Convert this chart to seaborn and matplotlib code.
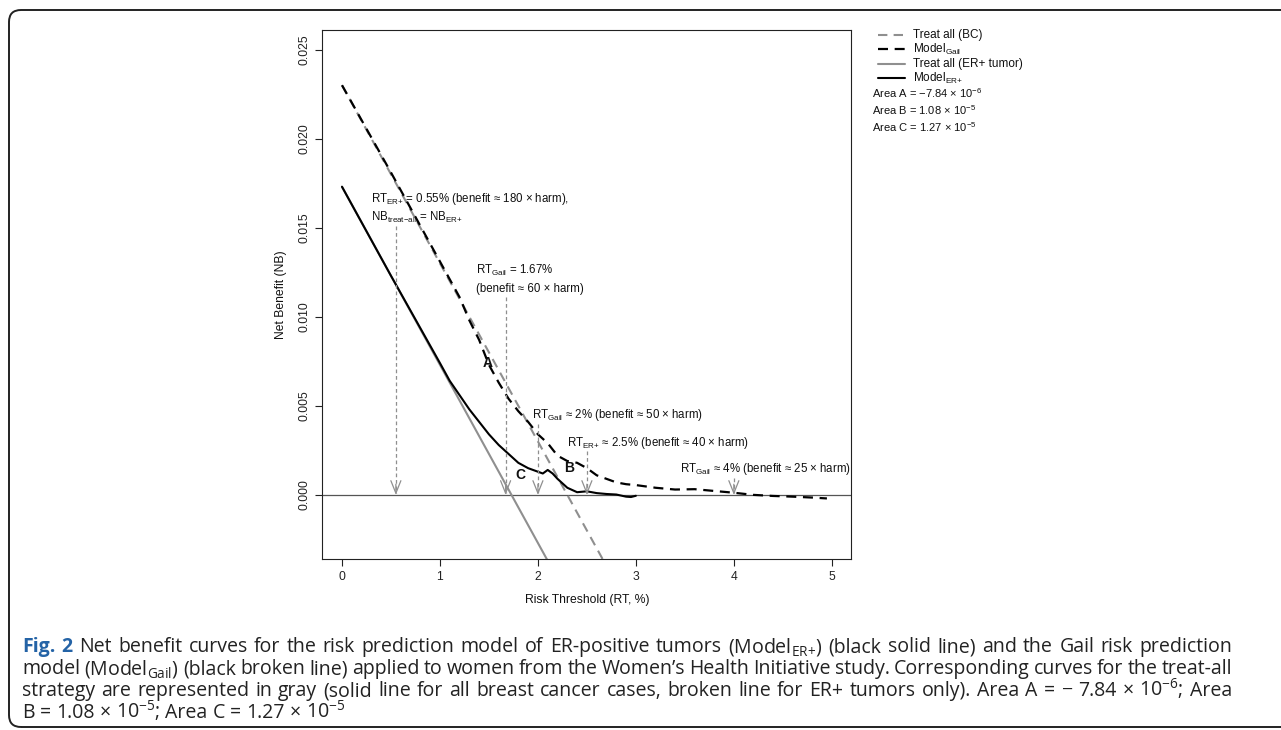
import matplotlib
matplotlib.use("Agg")
import matplotlib.pyplot as plt
import seaborn as sns
from matplotlib.lines import Line2D
from matplotlib.patches import FancyBboxPatch

# ---------------- data ----------------
treat_bc_x = [0.0, 2.7]
treat_bc_y = [0.0230, -0.0040]
treat_er_x = [0.0, 2.2]
treat_er_y = [0.0173, -0.0047]

gail_x = [0.0, 0.5, 1.0, 1.2, 1.3, 1.4, 1.5, 1.6, 1.7, 1.8, 1.9, 2.0, 2.1, 2.2,
          2.3, 2.4, 2.5, 2.6, 2.7, 2.8, 2.9, 3.0, 3.2, 3.4, 3.6, 3.8, 4.0, 4.2,
          4.4, 4.6, 4.8, 4.95]
gail_y = [0.0230, 0.0181, 0.0131, 0.0111, 0.0098, 0.0087, 0.0073, 0.0063, 0.0054,
          0.0047, 0.0041, 0.0034, 0.0029, 0.0022, 0.0019, 0.0018, 0.0015, 0.0011,
          0.0009, 0.0007, 0.0006, 0.00055, 0.0004, 0.0003, 0.00032, 0.00022,
          0.00012, 0.0, -0.00006, -0.0001, -0.00015, -0.0002]

er_x = [0.0, 0.5, 1.0, 1.1, 1.2, 1.3, 1.4, 1.5, 1.6, 1.7, 1.8, 1.9, 2.0, 2.05,
        2.1, 2.15, 2.2, 2.3, 2.4, 2.5, 2.6, 2.7, 2.8, 2.9, 2.95, 3.0]
er_y = [0.0173, 0.0123, 0.0074, 0.0064, 0.0056, 0.0048, 0.0041, 0.0034, 0.0028,
        0.0023, 0.0018, 0.0015, 0.0013, 0.0012, 0.0014, 0.0012, 0.0009, 0.0004,
        0.00015, 0.0002, 0.0001, 0.00005, 0.00002, -0.0001, -0.00012, -0.00005]

arrow_x = [0.55, 1.67, 2.0, 2.5, 4.0]
arrow_top = [0.0151, 0.0111, 0.0040, 0.00247, 0.00096]

area_labels = ["A", "B", "C"]
area_x = [1.49, 2.32, 1.82]
area_y = [0.0074, 0.0015, 0.0011]

ann_texts = [
    r"RT$_{\mathregular{ER{+}}}$ = 0.55% (benefit ≈ 180 × harm),",
    r"NB$_{\mathregular{treat{-}all}}$ = NB$_{\mathregular{ER{+}}}$",
    r"RT$_{\mathregular{Gail}}$ = 1.67%",
    r"(benefit ≈ 60 × harm)",
    r"RT$_{\mathregular{Gail}}$ ≈ 2% (benefit ≈ 50 × harm)",
    r"RT$_{\mathregular{ER{+}}}$ ≈ 2.5% (benefit ≈ 40 × harm)",
    r"RT$_{\mathregular{Gail}}$ ≈ 4% (benefit ≈ 25 × harm)",
]
ann_x = [0.296, 0.296, 1.367, 1.367, 1.939, 2.296, 3.449]
ann_y = [0.01663, 0.01556, 0.01258, 0.01157, 0.00449, 0.00292, 0.00146]

x_ticks = [0, 1, 2, 3, 4, 5]
y_ticks = [0.000, 0.005, 0.010, 0.015, 0.020, 0.025]
y_tick_labels = ["0.000", "0.005", "0.010", "0.015", "0.020", "0.025"]

legend_labels = ["Treat all (BC)", r"Model$_{\mathregular{Gail}}$",
                 "Treat all (ER+ tumor)", r"Model$_{\mathregular{ER{+}}}$"]
area_texts = [r"Area A = −7.84 × 10$^{\mathregular{{-}6}}$",
              r"Area B = 1.08 × 10$^{\mathregular{{-}5}}$",
              r"Area C = 1.27 × 10$^{\mathregular{{-}5}}$"]

caption_lines = [
    r"Fig. 2 Net benefit curves for the risk prediction model of ER-positive tumors (Model$_{\mathregular{ER{+}}}$) (black solid line) and the Gail risk prediction",
    r"model (Model$_{\mathregular{Gail}}$) (black broken line) applied to women from the Women’s Health Initiative study. Corresponding curves for the treat-all",
    r"strategy are represented in gray (solid line for all breast cancer cases, broken line for ER+ tumors only). Area A = − 7.84 × 10$^{\mathregular{{-}6}}$; Area",
    r"B = 1.08 × 10$^{\mathregular{{-}5}}$; Area C = 1.27 × 10$^{\mathregular{{-}5}}$",
]

# ---------------- style ----------------
sns.set_theme(style="white")
plt.rcParams["font.family"] = ["Liberation Sans", "DejaVu Sans"]
plt.rcParams["axes.unicode_minus"] = True

W, H = 1281, 730
fig = plt.figure(figsize=(W / 100, H / 100), dpi=100)
fig.patch.set_facecolor("white")

def fx(px):
    return px / W

def fy(py):
    return 1 - py / H

ax_l, ax_r, ax_t, ax_b = 322.4, 851.4, 30.0, 559.0
ax = fig.add_axes([fx(ax_l), fy(ax_b), fx(ax_r - ax_l), (ax_b - ax_t) / H])
ax.set_facecolor("white")

GRAY = "#8f8f8f"
dash = (0, (4.5, 3.0))

sns.lineplot(x=treat_bc_x, y=treat_bc_y, ax=ax, color=GRAY, lw=1.5,
             linestyle=dash, sort=False, estimator=None)
sns.lineplot(x=treat_er_x, y=treat_er_y, ax=ax, color=GRAY, lw=1.5,
             sort=False, estimator=None)
sns.lineplot(x=gail_x, y=gail_y, ax=ax, color="black", lw=1.6,
             linestyle=dash, sort=False, estimator=None)
sns.lineplot(x=er_x, y=er_y, ax=ax, color="black", lw=1.5,
             sort=False, estimator=None)

ax.axhline(0, color="#555555", lw=0.9, zorder=1)

# vertical dashed arrows
for xa, ya in zip(arrow_x, arrow_top):
    ax.plot([xa, xa], [ya, 0.00012], color=GRAY, lw=0.9,
            linestyle=(0, (3, 2.2)), zorder=2)
    ax.annotate("", xy=(xa, 0.0), xytext=(xa, 0.0006),
                arrowprops=dict(arrowstyle="->,head_length=0.75,head_width=0.3",
                                color=GRAY, lw=0.9, shrinkA=0, shrinkB=0),
                zorder=2)

for txt, xt, yt in zip(ann_texts, ann_x, ann_y):
    ax.text(xt, yt, txt, fontsize=8.3, ha="left", va="center", color="#111111")

for lab, xl, yl in zip(area_labels, area_x, area_y):
    ax.text(xl, yl, lab, fontsize=10, fontweight="bold", ha="center",
            va="center", color="#111111")

ax.set_xlim(-0.2, 5.2)
ax.set_ylim(-0.0036, 0.0261)
ax.set_xticks(x_ticks)
ax.set_yticks(y_ticks)
ax.set_yticklabels(y_tick_labels)
for lab in ax.get_yticklabels():
    lab.set_rotation(90)
    lab.set_va("center")
ax.tick_params(axis="both", direction="out", length=5, width=0.8,
               labelsize=8.7, colors="#222222", pad=3.5,
               bottom=True, left=True)
for sp in ax.spines.values():
    sp.set_visible(True)
    sp.set_color("#222222")
    sp.set_linewidth(0.8)
ax.set_xlabel("Risk Threshold (RT, %)", fontsize=8.7, labelpad=8, color="#111111")
ax.set_ylabel("Net Benefit (NB)", fontsize=8.7, labelpad=8, color="#111111")
ax.grid(False)

# ---------------- legend (drawn in figure space) ----------------
leg_rows = [35, 49, 64, 78]
leg_colors = [GRAY, "black", GRAY, "black"]
leg_styles = [dash, dash, "-", "-"]
leg_lw = [1.5, 1.6, 1.5, 1.5]
for yr, lab, c, ls, lw in zip(leg_rows, legend_labels, leg_colors, leg_styles, leg_lw):
    fig.add_artist(Line2D([fx(878), fx(905)], [fy(yr), fy(yr)], color=c,
                          linestyle=ls, lw=lw))
    fig.text(fx(913), fy(yr), lab, fontsize=8.5, ha="left", va="center",
             color="#111111")
for yr, lab in zip([93, 110, 127], area_texts):
    fig.text(fx(872), fy(yr), lab, fontsize=8.0, ha="left", va="center",
             color="#111111")

# ---------------- frame ----------------
frame = FancyBboxPatch((0.09, 0.03), 13.2, 7.17,
                       boxstyle="round,pad=0,rounding_size=0.12",
                       transform=fig.dpi_scale_trans, facecolor="none",
                       edgecolor="#222222", lw=1.4)
fig.add_artist(frame)

# ---------------- caption (justified) ----------------
renderer = fig.canvas.get_renderer()
cap_font = ["Open Sans", "DejaVu Sans"]
cap_x0, cap_x1 = 22.0, 1232.0
cap_base = [652, 674, 696, 718]

def make_words(line, size):
    words = line.split(" ")
    arts = []
    for i, w in enumerate(words):
        if line.startswith("Fig. 2") and i < 2:
            kw = dict(fontweight="bold", color="#2463a6")
        else:
            kw = dict(color="#222222")
        t = fig.text(0, 0, w, fontsize=size, family=cap_font, ha="left",
                     va="baseline", **kw)
        arts.append(t)
    return arts

probe = make_words(caption_lines[0], 12)
pw = [a.get_window_extent(renderer).width for a in probe]
sp_probe = fig.text(0, 0, "a a", fontsize=12, family=cap_font)
sp_probe2 = fig.text(0, 0, "aa", fontsize=12, family=cap_font)
space12 = (sp_probe.get_window_extent(renderer).width
           - sp_probe2.get_window_extent(renderer).width)
nat12 = sum(pw) + space12 * (len(pw) - 1)
for a in probe + [sp_probe, sp_probe2]:
    a.remove()
cap_size = 12 * 1180.0 / nat12
space = space12 * cap_size / 12

for li, (line, yb) in enumerate(zip(caption_lines, cap_base)):
    arts = make_words(line, cap_size)
    widths = [a.get_window_extent(renderer).width for a in arts]
    if li < 3:
        gap = (cap_x1 - cap_x0 - sum(widths)) / (len(arts) - 1)
    else:
        gap = space
    xcur = cap_x0
    for a, wdt in zip(arts, widths):
        a.set_position((fx(xcur), fy(yb)))
        xcur += wdt + gap

fig.savefig("out.png", dpi=100, facecolor="white")
